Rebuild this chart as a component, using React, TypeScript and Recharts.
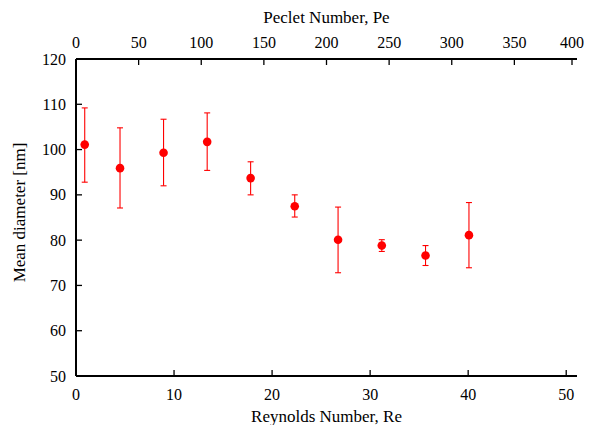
import { ScatterChart, Scatter, XAxis, YAxis, ErrorBar, Label } from 'recharts';

const reynolds = [0.89, 4.49, 8.93, 13.38, 17.81, 22.31, 26.73, 31.19, 35.65, 40.08];
const meanDiameter = [101.1, 95.9, 99.3, 101.7, 93.7, 87.5, 80.1, 78.8, 76.6, 81.1];
const lowerBound = [92.8, 87.1, 92.0, 95.4, 90.0, 85.1, 72.8, 77.5, 74.4, 73.9];
const upperBound = [109.2, 104.8, 106.7, 108.1, 97.3, 90.0, 87.3, 80.1, 78.8, 88.3];

const reTicks = [0, 10, 20, 30, 40, 50];
const peTicks = [0, 50, 100, 150, 200, 250, 300, 350, 400];
const yTicks = [50, 60, 70, 80, 90, 100, 110, 120];

const data = reynolds.map((re, i) => ({
  re,
  d: meanDiameter[i],
  err: [meanDiameter[i] - lowerBound[i], upperBound[i] - meanDiameter[i]],
}));

const FONT = '"Liberation Serif", "Times New Roman", serif';
const TICK_FS = 16;
const TITLE_FS = 17;
const TICK_LEN = 6;

const BottomTick = ({ x, y, payload }: any) => (
  <g>
    <line x1={x} x2={x} y1={y} y2={y - TICK_LEN} stroke="#000" strokeWidth={1.3} />
    <text x={x} y={y + 23.5} textAnchor="middle" fontFamily={FONT} fontSize={TICK_FS} fill="#000">
      {payload.value}
    </text>
  </g>
);

const TopTick = ({ x, y, payload }: any) => (
  <g>
    <line x1={x} x2={x} y1={y} y2={y + TICK_LEN} stroke="#000" strokeWidth={1.3} />
    <text x={x} y={y - 11.5} textAnchor="middle" fontFamily={FONT} fontSize={TICK_FS} fill="#000">
      {payload.value}
    </text>
  </g>
);

const LeftTick = ({ x, y, payload }: any) => (
  <g>
    <line x1={x} x2={x + TICK_LEN} y1={y} y2={y} stroke="#000" strokeWidth={1.3} />
    <text x={x - 10} y={y + 5.5} textAnchor="end" fontFamily={FONT} fontSize={TICK_FS} fill="#000">
      {payload.value}
    </text>
  </g>
);

const RightTick = ({ x, y }: any) => (
  <line x1={x} x2={x - TICK_LEN} y1={y} y2={y} stroke="#000" strokeWidth={1.3} />
);

export default function App() {
  return (
    <ScatterChart width={576} height={417} margin={{ top: 0, right: 7, bottom: 0, left: 0 }}>
      <XAxis
        xAxisId="re"
        dataKey="re"
        type="number"
        orientation="bottom"
        domain={[0, 51.1]}
        ticks={reTicks}
        height={49}
        tickSize={0}
        tickMargin={0}
        tickLine={false}
        tick={<BottomTick />}
        axisLine={{ stroke: '#000', strokeWidth: 2 }}
        allowDataOverflow
      >
        <Label
          content={({ viewBox }: any) => (
            <text
              x={viewBox.x + viewBox.width / 2}
              y={viewBox.y + 46}
              textAnchor="middle"
              fontFamily={FONT}
              fontSize={TITLE_FS}
              fill="#000"
            >
              Reynolds Number, Re
            </text>
          )}
        />
      </XAxis>
      <XAxis
        xAxisId="pe"
        dataKey="pe"
        type="number"
        orientation="top"
        domain={[0, 400]}
        ticks={peTicks}
        height={51}
        tickSize={0}
        tickMargin={0}
        tickLine={false}
        tick={<TopTick />}
        axisLine={{ stroke: '#000', strokeWidth: 2 }}
        allowDataOverflow
      >
        <Label
          content={({ viewBox }: any) => (
            <text
              x={viewBox.x + viewBox.width / 2}
              y={15}
              textAnchor="middle"
              fontFamily={FONT}
              fontSize={TITLE_FS}
              fill="#000"
            >
              Peclet Number, Pe
            </text>
          )}
        />
      </XAxis>
      <YAxis
        yAxisId="d"
        dataKey="d"
        type="number"
        orientation="left"
        domain={[50, 120]}
        ticks={yTicks}
        width={68}
        tickSize={0}
        tickMargin={0}
        tickLine={false}
        tick={<LeftTick />}
        axisLine={{ stroke: '#000', strokeWidth: 2 }}
        allowDataOverflow
      >
        <Label
          content={({ viewBox }: any) => {
            const cx = 11;
            const cy = viewBox.y + viewBox.height / 2 - 5;
            return (
              <text
                x={cx}
                y={cy}
                dy="0.35em"
                textAnchor="middle"
                transform={`rotate(-90, ${cx}, ${cy})`}
                fontFamily={FONT}
                fontSize={TITLE_FS}
                fill="#000"
              >
                Mean diameter [nm]
              </text>
            );
          }}
        />
      </YAxis>
      <YAxis
        yAxisId="right"
        dataKey="d"
        type="number"
        orientation="right"
        domain={[50, 120]}
        ticks={yTicks}
        width={0}
        tickSize={0}
        tickMargin={0}
        tickLine={false}
        tick={<RightTick />}
        axisLine={{ stroke: '#000', strokeWidth: 2 }}
        allowDataOverflow
      />
      {/* empty series so the top Peclet axis gets drawn */}
      <Scatter data={[]} xAxisId="pe" yAxisId="right" isAnimationActive={false} />
      <Scatter
        data={data}
        xAxisId="re"
        yAxisId="d"
        fill="#ff0000"
        isAnimationActive={false}
        shape={(p: any) => <circle cx={p.cx} cy={p.cy} r={4.3} fill="#ff0000" />}
      >
        <ErrorBar dataKey="err" direction="y" width={3} stroke="#ff0000" strokeWidth={1.1} isAnimationActive={false} />
      </Scatter>
    </ScatterChart>
  );
}
